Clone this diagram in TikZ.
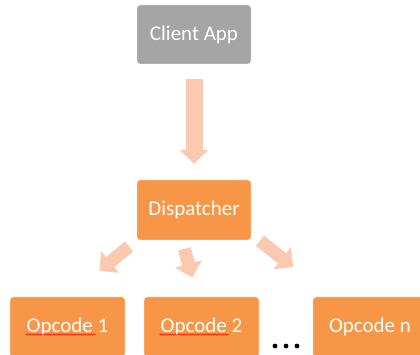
\documentclass[tikz,border=0pt]{standalone}
\usepackage{fontspec}
\setmainfont{Carlito}
\usepackage{tikz}
\usepackage{xcolor}
\usetikzlibrary{calc,arrows.meta,decorations.pathmorphing}
\definecolor{highlightcolorb}{HTML}{F79646}
\definecolor{greycolorb}{HTML}{A5A5A5}
\definecolor{arrowcolorb}{HTML}{FAC9AF}
\colorlet{textb}{white}
\tikzstyle{appbox} = [
    fill=greycolorb,
    draw=white,
    thin,
    rectangle,
    rounded corners=3pt,
    minimum width=114pt,
    minimum height=59pt,
    text=textb,
    font=\fontsize{21}{25}\selectfont
    ]
\tikzstyle{opbox} = [
    appbox,
    fill=highlightcolorb,
    minimum height=60pt
    ]
\tikzstyle{fatarrow} = [
    draw=arrowcolorb,
    line width=13pt,
    -{Triangle[width=27pt,length=14pt]}
    ]
\tikzstyle{squiggle} = [
    draw=red,
    line width=0.5pt,
    decorate,
    decoration={snake, amplitude=0.7pt, segment length=2.5pt}
    ]

\begin{document}
\begin{tikzpicture}[x=1pt,y=1pt]
\clip (0,0) rectangle (420,355);
\node [appbox] (client) at (194,320.5) {Client App};
\node [opbox] (disp) at (194,145) {Dispatcher};
\node [opbox, minimum width=115pt] (op1) at (67.5,28) {Opcode 1};
\node [opbox, minimum width=115pt] (op2) at (201.5,28) {Opcode 2};
\node [opbox] (opn) at (370,28) {Opcode n};

% arrows
\draw [fatarrow, line width=17pt, -{Triangle[width=28pt,length=14pt]},
    shorten <=15pt, shorten >=16pt] (client.south) -- (disp.north);
\draw [fatarrow, shorten <=10pt, shorten >=41pt] (disp.south west) -- (op1.north);
\draw [fatarrow, shorten <=9pt, shorten >=20pt]
    ([xshift=-12pt]disp.south) -- ([xshift=-4pt]op2.north);
\draw [fatarrow, shorten <=1pt, shorten >=48pt]
    ([xshift=8pt]disp.south east) -- ([xshift=18pt]opn.north west);

% spell check marks
\draw [squiggle] ([shift={(-42pt,-7.5pt)}]op1.center) -- ++(70pt,0);
\draw [squiggle] ([shift={(-42pt,-7.5pt)}]op2.center) -- ++(69pt,0);

\foreach \x in {275,286,297}
    \fill (\x,9) circle (2.4pt);
\end{tikzpicture}
\end{document}
